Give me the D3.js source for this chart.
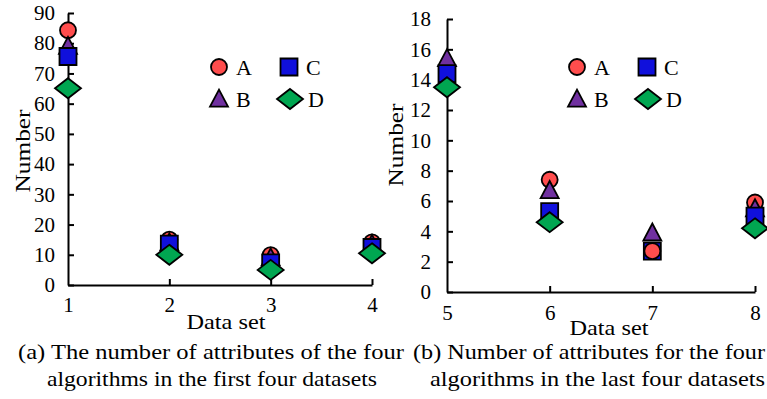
<!DOCTYPE html>
<html>
<head>
<meta charset="utf-8">
<script src="https://cdn.jsdelivr.net/npm/d3@7/dist/d3.min.js"></script>
<style>
  html, body { margin: 0; padding: 0; background: #fff; }
  svg { display: block; }
  svg text { fill: #000; }
</style>
</head>
<body>
<svg id="chart" width="767" height="399"></svg>
<script>
// Data sets on each panel
const setsLeft = [1, 2, 3, 4];
const setsRight = [5, 6, 7, 8];

// Number of attributes per algorithm, first four data sets
const leftA = [84.3, 15.0, 9.9, 14.1];
const leftB = [79.0, 14.0, 9.0, 13.5];
const leftC = [75.6, 13.5, 7.3, 12.4];
const leftD = [65.1, 10.0, 5.0, 10.5];

// Number of attributes per algorithm, last four data sets (D has no mark at set 7)
const rightA = [14.3, 7.4, 2.7, 5.9];
const rightB = [15.4, 6.7, 3.9, 5.5];
const rightC = [14.4, 5.3, 2.7, 5.0];
const rightD = [13.5, 4.6, null, 4.2];

const seriesNames = ["A", "B", "C", "D"];
const leftTicksY = [0, 10, 20, 30, 40, 50, 60, 70, 80, 90];
const rightTicksY = [0, 2, 4, 6, 8, 10, 12, 14, 16, 18];

const captionLeft = ["(a) The number of attributes of the four", "algorithms in the first four datasets"];
const captionRight = ["(b) Number of attributes for the four", "algorithms in the last four datasets"];

const colors = { A: "#ff4d4d", B: "#7030a0", C: "#1010dc", D: "#00a651" };
const FONT = "Liberation Serif";

// Marker shapes
function markerPath(name) {
  if (name === "A") return d3.symbol(d3.symbolCircle, Math.PI * 8 * 8)();
  if (name === "C") return d3.symbol(d3.symbolSquare, 17 * 17)();
  if (name === "B") {
    const w = 18, h = 17;
    return `M0,${-h * 0.55}L${w / 2},${h * 0.45}L${-w / 2},${h * 0.45}Z`;
  }
  const w = 26, h = 20;
  return `M0,${-h / 2}L${w / 2},0L0,${h / 2}L${-w / 2},0Z`;
}

const svg = d3.select("#chart");

function drawPanel(cfg) {
  const g = svg.append("g").attr("font-family", FONT);
  const x = d3.scaleLinear().domain(cfg.xDomain).range(cfg.xRange);
  const y = d3.scaleLinear().domain(cfg.yDomain).range(cfg.yRange);

  const xAxis = d3.axisBottom(x).tickValues(cfg.sets).tickFormat(d3.format("d"))
    .tickSizeInner(-6).tickSizeOuter(0).tickPadding(cfg.xPad);
  const yAxis = d3.axisLeft(y).tickValues(cfg.ticksY).tickFormat(d3.format("d"))
    .tickSizeInner(-6).tickSizeOuter(0).tickPadding(cfg.yPad);

  const gx = g.append("g").attr("transform", `translate(0,${cfg.yRange[0]})`).call(xAxis);
  const gy = g.append("g").attr("transform", `translate(${cfg.xRange[0]},0)`).call(yAxis);
  [gx, gy].forEach(a => {
    a.attr("font-family", FONT).attr("font-size", 21);
    a.selectAll("path.domain").attr("stroke", "#000").attr("stroke-width", 2);
    a.selectAll(".tick line").attr("stroke", "#000").attr("stroke-width", 2);
  });
  gx.selectAll(".tick").filter(d => d === cfg.sets[0]).select("line").remove();

  // Points, drawn series by series (A underneath, D on top)
  const rows = [];
  seriesNames.forEach((s, si) => {
    cfg.values[si].forEach((v, i) => {
      if (v !== null) rows.push({ s, set: cfg.sets[i], v, order: si });
    });
  });
  rows.forEach(r => {
    if (cfg.raise.some(t => t.set === r.set && t.series === r.s)) r.order = 9;
  });
  rows.sort((a, b) => a.order - b.order);

  g.append("g").selectAll("path").data(rows).join("path")
    .attr("d", d => markerPath(d.s))
    .attr("transform", d => `translate(${x(d.set)},${y(d.v)})`)
    .attr("fill", d => colors[d.s])
    .attr("stroke", "#000").attr("stroke-width", 1.8);

  // Axis titles
  g.append("text").attr("x", cfg.xTitle[0]).attr("y", cfg.xTitle[1])
    .attr("text-anchor", "middle").attr("font-size", 22)
    .attr("textLength", 79).attr("lengthAdjust", "spacingAndGlyphs").text("Data set");
  g.append("text").attr("transform", `translate(${cfg.yTitle[0]},${cfg.yTitle[1]}) rotate(-90)`)
    .attr("text-anchor", "middle").attr("font-size", 22)
    .attr("textLength", 83).attr("lengthAdjust", "spacingAndGlyphs").text("Number");

  // Legend
  const lg = g.append("g").attr("transform", `translate(${cfg.legend[0]},${cfg.legend[1]})`);
  const pos = { A: [0, 0], C: [70, 0], B: [0, 32], D: [70, 32] };
  seriesNames.forEach(s => {
    const [lx, ly] = pos[s];
    lg.append("path").attr("d", markerPath(s))
      .attr("transform", `translate(${lx + (s === "D" ? 1 : 0)},${ly})`)
      .attr("fill", colors[s]).attr("stroke", "#000").attr("stroke-width", 1.8);
    lg.append("text").attr("x", lx + 17 + (s === "D" ? 2 : 0)).attr("y", ly + 8)
      .attr("font-size", 22).text(s);
  });

  // Caption
  cfg.caption.forEach((line, i) => {
    g.append("text").attr("x", cfg.captionPos[i][0]).attr("y", cfg.captionPos[i][1])
      .attr("textLength", cfg.captionPos[i][2]).attr("lengthAdjust", "spacingAndGlyphs")
      .attr("font-size", 22).text(line);
  });
}

drawPanel({
  sets: setsLeft, values: [leftA, leftB, leftC, leftD], ticksY: leftTicksY,
  xDomain: [1, 4], xRange: [68, 372], yDomain: [0, 90], yRange: [285, 13],
  xPad: 12, yPad: 13, xTitle: [226, 329], yTitle: [30, 151], legend: [219, 67],
  raise: [],
  caption: captionLeft, captionPos: [[18, 359, 386], [47, 386, 330]]
});

drawPanel({
  sets: setsRight, values: [rightA, rightB, rightC, rightD], ticksY: rightTicksY,
  xDomain: [5, 8], xRange: [447, 755], yDomain: [0, 18], yRange: [292, 19],
  xPad: 13, yPad: 16, xTitle: [609, 335], yTitle: [403, 145], legend: [577, 67],
  raise: [{ set: 7, series: "A" }],
  caption: captionRight, captionPos: [[413, 359, 352], [430, 386, 335]]
});
</script>
</body>
</html>
